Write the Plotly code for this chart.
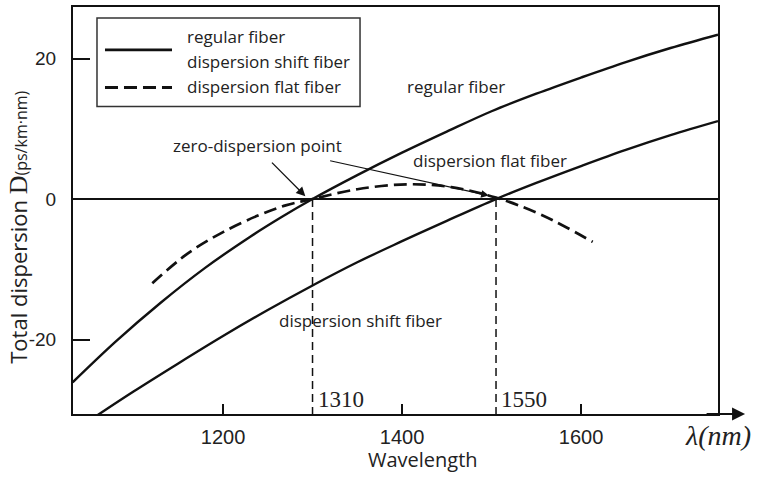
import plotly.graph_objects as go

# ---- data ----
reg_x = [1032, 1080, 1130, 1180, 1230, 1265, 1300, 1350, 1400, 1450, 1500, 1550, 1600, 1650, 1700, 1753]
reg_y = [-26.1, -20.3, -14.8, -9.8, -5.4, -2.6, 0.0, 3.4, 6.6, 9.6, 12.5, 15.0, 17.3, 19.5, 21.5, 23.4]

dsf_x = [1057, 1100, 1150, 1200, 1250, 1300, 1350, 1400, 1450, 1505, 1550, 1600, 1650, 1700, 1753]
dsf_y = [-31.0, -27.4, -23.4, -19.5, -15.8, -12.3, -9.0, -6.0, -3.1, 0.0, 2.3, 4.7, 7.0, 9.1, 11.1]

dff_x = [1121, 1160, 1200, 1240, 1270, 1300, 1350, 1405, 1455, 1505, 1555, 1613]
dff_y = [-12.0, -7.8, -4.7, -2.3, -0.9, 0.0, 1.4, 2.1, 1.7, 0.2, -2.2, -6.1]

zero_points = [1300, 1505]
zero_labels = ["1310", "1550"]

x_ticks = [1200, 1400, 1600]
y_ticks = [-20, 0, 20]
y_ticktext = ["-20", "0", "20"]

legend_labels = ["regular fiber", "dispersion shift fiber", "dispersion flat fiber"]

X_RANGE = [1032.4, 1753.0]
Y_RANGE = [-30.6, 27.34]

INK = "#111111"
TXT = "#222222"
SANS = "Open Sans"
LBL = 17

fig = go.Figure()
fig.add_trace(go.Scatter(x=reg_x, y=reg_y, mode="lines", name="regular fiber",
                         line=dict(color=INK, width=2.4, shape="spline", smoothing=1.0)))
fig.add_trace(go.Scatter(x=dsf_x, y=dsf_y, mode="lines", name="dispersion shift fiber",
                         line=dict(color=INK, width=2.4, shape="spline", smoothing=1.0)))
fig.add_trace(go.Scatter(x=dff_x, y=dff_y, mode="lines", name="dispersion flat fiber",
                         line=dict(color=INK, width=2.7, shape="spline", smoothing=1.0,
                                   dash="13px,6px")))

# vertical dashed lines at the zero-dispersion points
for xv, lab in zip(zero_points, zero_labels):
    fig.add_shape(type="line", xref="x", yref="y", x0=xv, x1=xv, y0=0, y1=Y_RANGE[0],
                  line=dict(color=INK, width=1.5, dash="8px,5px"))
    fig.add_annotation(x=xv, y=-28.5, xref="x", yref="y", text=lab, showarrow=False,
                       xanchor="left", yanchor="middle", xshift=3,
                       font=dict(family="Liberation Serif", size=23, color=TXT))

# curve labels
fig.add_annotation(x=1460, y=16.0, text="regular fiber", showarrow=False,
                   font=dict(family=SANS, size=LBL, color=TXT))
fig.add_annotation(x=1498, y=5.5, text="dispersion flat fiber", showarrow=False,
                   font=dict(family=SANS, size=LBL, color=TXT))
fig.add_annotation(x=1354, y=-17.3, text="dispersion shift fiber", showarrow=False,
                   font=dict(family=SANS, size=LBL, color=TXT))
fig.add_annotation(x=1238, y=7.6, text="zero-dispersion point", showarrow=False,
                   font=dict(family=SANS, size=LBL, color=TXT))

# arrows pointing at the zero-dispersion points
fig.add_annotation(x=1292, y=0.4, ax=1253, ay=5.4, xref="x", yref="y", axref="x", ayref="y",
                   text="", showarrow=True, arrowhead=2, arrowsize=1.4, arrowwidth=1.3,
                   arrowcolor=INK, standoff=0)
fig.add_annotation(x=1497, y=0.5, ax=1318, ay=5.5, xref="x", yref="y", axref="x", ayref="y",
                   text="", showarrow=True, arrowhead=2, arrowsize=1.4, arrowwidth=1.1,
                   arrowcolor=INK, standoff=0)

# x-axis arrow extension
fig.add_annotation(x=1.042, y=0, xref="paper", yref="paper", ax=-40, ay=0,
                   text="", showarrow=True, arrowhead=2, arrowsize=1.3, arrowwidth=2,
                   arrowcolor=INK, standoff=0)
fig.add_annotation(x=1.0, y=0, xref="paper", yref="paper", yshift=-21, xanchor="center",
                   yanchor="middle", text="<i>λ(nm)</i>", showarrow=False,
                   font=dict(family="Liberation Serif", size=28, color=TXT))

# axis titles
fig.add_annotation(x=0.5426, y=0, xref="paper", yref="paper", yshift=-45, yanchor="middle",
                   xanchor="center", text="Wavelength", showarrow=False,
                   font=dict(family=SANS, size=20, color=TXT))
fig.add_annotation(x=-0.0853, y=0.46, xref="paper", yref="paper", textangle=-90,
                   xanchor="center", yanchor="middle",
                   text="Total dispersion <span style='font-family:Liberation Serif;font-size:26px'>D</span>"
                        "<span style='font-size:16px'>(ps/km·nm)</span>",
                   showarrow=False, font=dict(family=SANS, size=22, color=TXT))

# manual legend
fig.add_shape(type="rect", xref="paper", yref="paper", x0=0.0372, x1=0.445, y0=0.7555, y1=0.973,
              line=dict(color="#333333", width=1.5), fillcolor="white", layer="above")
fig.add_shape(type="line", xref="paper", yref="paper", x0=0.0496, x1=0.1535, y0=0.8949, y1=0.8949,
              line=dict(color=INK, width=2.8))
fig.add_shape(type="line", xref="paper", yref="paper", x0=0.0496, x1=0.1535, y0=0.802, y1=0.802,
              line=dict(color=INK, width=3, dash="13px,6px"))
for lab, yy in zip(legend_labels, [0.9267, 0.8655, 0.8044]):
    fig.add_annotation(x=0.1736, y=yy, xref="paper", yref="paper", xanchor="left",
                       yanchor="middle", text=lab, showarrow=False,
                       font=dict(family=SANS, size=LBL, color=TXT))

fig.update_layout(
    width=761, height=479, autosize=False,
    margin=dict(l=73, r=43, t=5, b=65),
    paper_bgcolor="white", plot_bgcolor="white",
    showlegend=False,
    font=dict(family=SANS, color=TXT),
)
fig.update_xaxes(range=X_RANGE, tickvals=x_ticks, ticks="inside", ticklen=10, tickwidth=2,
                 tickcolor=INK, showline=True, linewidth=2, linecolor=INK, mirror=True,
                 showgrid=False, zeroline=False, ticklabelstandoff=4,
                 tickfont=dict(family="Liberation Sans", size=20, color=TXT))
fig.update_yaxes(range=Y_RANGE, tickvals=y_ticks, ticktext=y_ticktext, ticks="inside",
                 ticklen=17, tickwidth=2, tickcolor=INK, showline=True, linewidth=2,
                 linecolor=INK, mirror=True, showgrid=False, zeroline=True,
                 zerolinecolor=INK, zerolinewidth=2, ticklabelstandoff=11,
                 tickfont=dict(family="Liberation Sans", size=19, color=TXT))

fig.write_html("out.html")
